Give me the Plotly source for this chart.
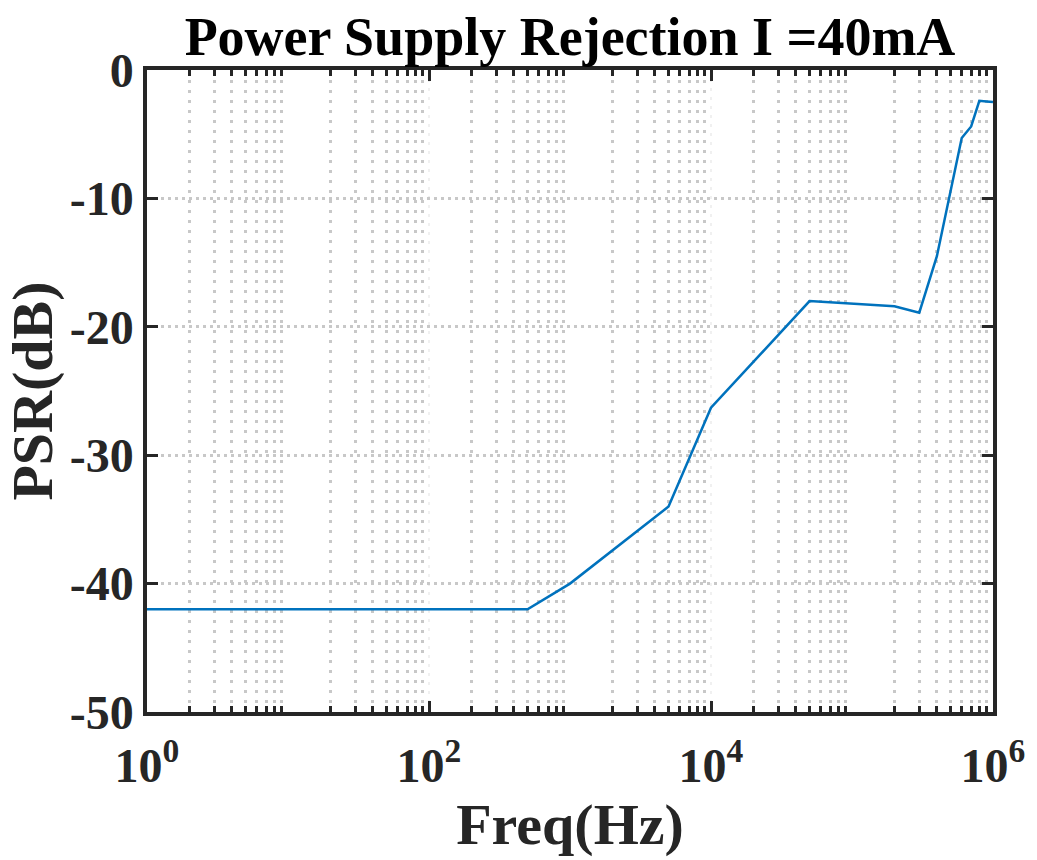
import plotly.graph_objects as go

# Data
freq_hz = [1, 500, 1000, 5000, 10000, 50000, 200000, 300000, 400000, 600000, 700000, 800000, 900000, 1000000]
psr_db = [-42, -42, -40, -34, -26.3, -18, -18.4, -18.9, -14.5, -5.3, -4.4, -2.4, -2.45, -2.5]

x_tick_vals = [1, 100, 10000, 1000000]
x_tick_text = ["10<sup>0</sup>", "10<sup>2</sup>", "10<sup>4</sup>", "10<sup>6</sup>"]
minor_vals = [m * d for d in [1, 10, 100, 1000, 10000, 100000] for m in range(2, 10)]
y_tick_vals = [-50, -40, -30, -20, -10, 0]
y_tick_text = ["-50", "-40", "-30", "-20", "-10", "0"]

FONT = "Liberation Serif"

fig = go.Figure()
fig.add_trace(go.Scatter(
    x=freq_hz, y=psr_db, mode="lines",
    line=dict(color="#0072BD", width=2.5),
    showlegend=False,
))

fig.update_layout(
    width=1037, height=860,
    margin=dict(l=147, r=40, t=70, b=148),
    paper_bgcolor="white", plot_bgcolor="white",
    title=dict(
        text="<b>Power Supply Rejection I =40mA</b>",
        font=dict(family=FONT, size=54, color="black"),
        x=0.5, xref="paper", xanchor="center",
        y=1 - 36 / 860, yref="container", yanchor="middle",
    ),
    font=dict(family=FONT, color="#262626"),
)

fig.update_xaxes(
    type="log", range=[0, 6],
    tickmode="array", tickvals=x_tick_vals, ticktext=x_tick_text,
    tickfont=dict(family=FONT, size=48, color="#262626", weight="bold"),
    ticklabelstandoff=9,
    ticks="inside", ticklen=11, tickwidth=2.5, tickcolor="#262626",
    showline=True, linecolor="#262626", linewidth=3.5, mirror="ticks",
    showgrid=True, gridcolor="#f0f0f0", gridwidth=2, griddash="3px,6px",
    minor=dict(tickmode="array", tickvals=minor_vals, ticks="inside", ticklen=6,
               tickwidth=2.5, tickcolor="#262626",
               showgrid=True, gridcolor="#c8c8c8", gridwidth=3, griddash="3px,7px"),
    title=dict(text="<b>Freq(Hz)</b>", font=dict(family=FONT, size=58, color="#262626"), standoff=0),
    zeroline=False,
)

fig.update_yaxes(
    range=[-50, 0], tickmode="array", tickvals=y_tick_vals, ticktext=y_tick_text,
    tickfont=dict(family=FONT, size=48, color="#262626", weight="bold"),
    ticks="inside", ticklen=11, tickwidth=2.5, tickcolor="#262626",
    showline=True, linecolor="#262626", linewidth=3.5, mirror="ticks",
    showgrid=True, gridcolor="#c8c8c8", gridwidth=3, griddash="3px,4px",
    title=dict(text="<b>PSR(dB)</b>", font=dict(family=FONT, size=58, color="#262626"), standoff=6),
    zeroline=False,
)

fig.write_html("out.html")
